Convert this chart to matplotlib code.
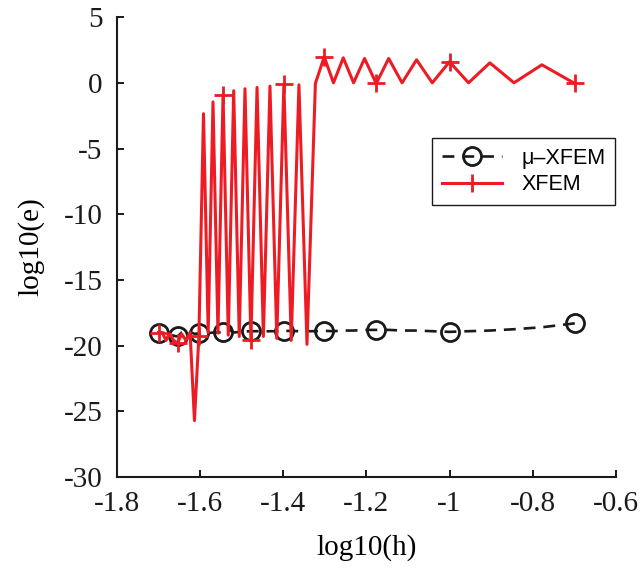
import numpy as np
import matplotlib
matplotlib.use("Agg")
import matplotlib.pyplot as plt

plt.rcParams['axes.unicode_minus'] = False

# number of elements per side, h = 1/n
n_elem = [5, 6, 7, 8, 9, 10, 11, 12, 13, 14, 15, 16, 17, 18, 19, 20,
          21, 22, 23, 24, 25, 26, 27, 28, 29, 30, 31, 32, 33, 34, 35,
          36, 37, 38, 39, 40, 41, 42, 43, 44, 45, 46, 47, 48, 49, 50]

# log10 of error, mu-XFEM
err_mu = [-18.3, -18.6, -18.75, -18.85, -18.9, -18.95, -18.9, -18.85, -18.85,
          -18.8, -18.8, -18.8, -18.85, -18.85, -18.9, -18.87, -18.9, -18.9,
          -18.9, -18.88, -18.87, -18.9, -18.9, -18.92, -18.9, -18.9, -18.92,
          -18.95, -19.0, -18.75, -18.95, -19.0, -19.0, -19.05, -19.0, -19.07,
          -19.1, -18.95, -18.9, -19.0, -19.3, -19.25, -19.1, -19.0, -19.05,
          -19.05]

# log10 of error, XFEM
err_x = [-0.05, 1.37, 0.0, 1.52, 0.0, 1.6, 0.0, 1.75, 0.0, 1.85, -0.05,
         1.85, 0.0, 1.9, 0.0, 1.98, -0.05, -19.9, -0.15, -19.6, -0.1,
         -19.45, -0.25, -19.3, -0.35, -19.6, -0.45, -19.3, -0.6, -19.2,
         -0.9, -19.05, -1.45, -19.0, -2.35, -19.25, -25.7, -19.0, -19.6,
         -19.1, -19.8, -19.6, -19.1, -19.6, -19.0, -19.0]

xticks = [-1.8, -1.6, -1.4, -1.2, -1.0, -0.8, -0.6]
yticks = [5, 0, -5, -10, -15, -20, -25, -30]

logh = np.log10(1.0 / np.array(n_elem))

fig = plt.figure(figsize=(6.42, 5.70), dpi=100)
ax = fig.add_axes([0.1815, 0.163, 0.778, 0.807])

ax.plot(logh, err_mu, color='#1a1a1a', lw=1.9, ls=(0, (4.5, 3)),
        marker='o', ms=13, mfc='none', mew=2.0, markevery=5,
        label='\u03bc\u2013XFEM')
ax.plot(logh, err_x, color='#ed1c24', lw=2.2, marker='+', ms=13,
        mew=2.0, markevery=5, label='XFEM')

ax.set_xlim(-1.8, -0.6)
ax.set_ylim(-30, 5)
ax.set_xticks(xticks)
ax.set_yticks(yticks)
ax.set_xticklabels(['%g' % v for v in xticks])
ax.set_yticklabels(['%g' % v for v in yticks])

serif = ['Liberation Serif', 'DejaVu Serif']
for lab in ax.get_xticklabels() + ax.get_yticklabels():
    lab.set_family(serif)
    lab.set_fontsize(21)
ax.tick_params(direction='in', length=5, width=1.4, colors='#1a1a1a')
ax.tick_params(axis='x', pad=10)
ax.tick_params(axis='y', pad=10)
ax.set_xlabel('log10(h)', family=serif, fontsize=21, labelpad=12)
ax.set_ylabel('log10(e)', family=serif, fontsize=21, labelpad=14)

for s in ['top', 'right']:
    ax.spines[s].set_visible(False)
for s in ['left', 'bottom']:
    ax.spines[s].set_linewidth(1.5)
    ax.spines[s].set_color('#1a1a1a')

leg = ax.legend(loc='upper right', bbox_to_anchor=(0.998, 0.737),
                prop={'family': ['Liberation Sans', 'DejaVu Sans'], 'size': 15.5},
                fancybox=False, framealpha=1, edgecolor='#1a1a1a',
                handlelength=2.8, borderpad=0.45, labelspacing=0.25,
                handletextpad=0.9, borderaxespad=0)
leg.get_frame().set_linewidth(1.0)

fig.savefig('out.png', dpi=100)
